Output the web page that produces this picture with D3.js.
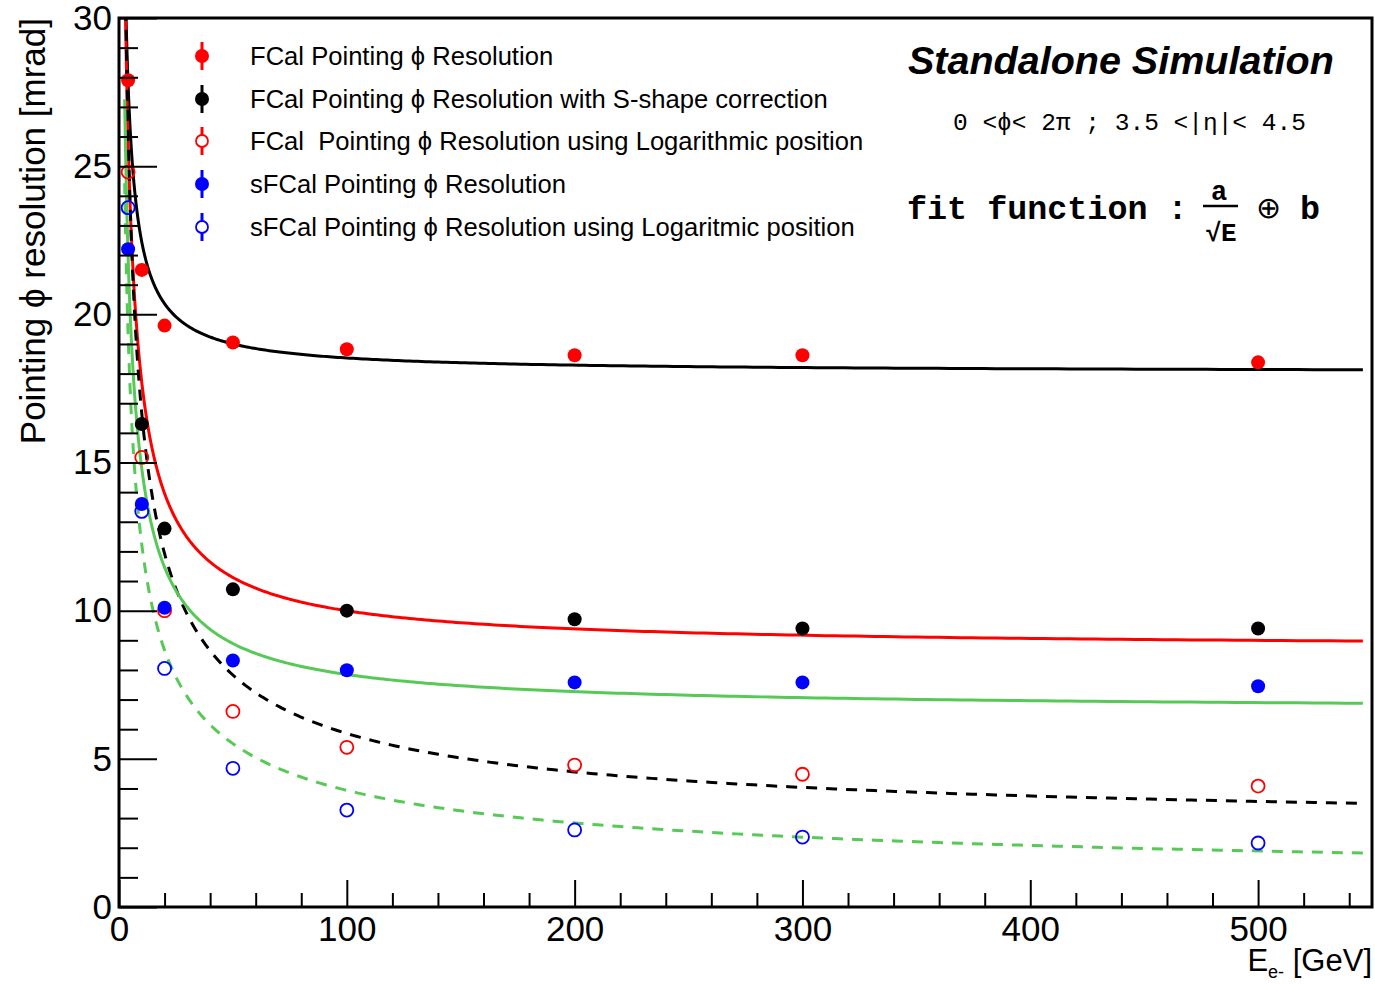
<!DOCTYPE html>
<html>
<head>
<meta charset="utf-8">
<script src="https://cdn.jsdelivr.net/npm/d3@7"></script>
<style>
  body { margin: 0; background: #fff; }
  svg { display: block; }
  text { font-family: "Liberation Sans", Arial, Helvetica, sans-serif; fill: #000; }
  .mono { font-family: "Liberation Mono", "Courier New", monospace; }
</style>
</head>
<body>
<svg id="chart" width="1375" height="984"></svg>
<script>
// Beam energies [GeV] and the measured phi resolutions [mrad]
const energies     = [4, 10, 20, 50, 100, 200, 300, 500];
const fcalRes      = [27.9, 21.5, 19.62, 19.05, 18.82, 18.62, 18.62, 18.38];
const fcalSShape   = [null, 16.3, 12.77, 10.72, 10.0, 9.71, 9.4, 9.4];
const fcalLogRes   = [24.8, 15.17, 10.0, 6.6, 5.39, 4.79, 4.48, 4.08];
const sfcalRes     = [22.2, 13.6, 10.1, 8.32, 7.99, 7.58, 7.58, 7.45];
const sfcalLogRes  = [23.6, 13.35, 8.05, 4.68, 3.27, 2.6, 2.36, 2.16];

// Fit results for sigma(E) = a/sqrt(E) (+) b, one per series above
const fitA = [42.2, 48.7, 51.96, 41.8, 38.6];
const fitB = [18.04, 8.73, 2.70, 6.64, 0.77];
const fitRange = [2.5, 546];

// Axis ticks
const xMajorTicks = [0, 100, 200, 300, 400, 500];
const xMinorTicks = d3.range(0, 551, 20);
const yMajorTicks = [0, 5, 10, 15, 20, 25, 30];
const yMinorTicks = d3.range(0, 31, 1);

const legendLabels = [
  "FCal Pointing \u03d5 Resolution",
  "FCal Pointing \u03d5 Resolution with S-shape correction",
  "FCal  Pointing \u03d5 Resolution using Logarithmic position",
  "sFCal Pointing \u03d5 Resolution",
  "sFCal Pointing \u03d5 Resolution using Logaritmic position"
];

const GREEN = "#57c957";
const series = [
  { values: fcalRes,     color: "#ff0000", filled: true },
  { values: fcalSShape,  color: "#000000", filled: true },
  { values: fcalLogRes,  color: "#ff0000", filled: false },
  { values: sfcalRes,    color: "#0000ff", filled: true },
  { values: sfcalLogRes, color: "#0000ff", filled: false }
];
const fitStyles = [
  { color: "#000000", dash: null },
  { color: "#ff0000", dash: null },
  { color: "#000000", dash: "11,9" },
  { color: GREEN,     dash: null },
  { color: GREEN,     dash: "11,9" }
];

const svg = d3.select("#chart");
const plot = { left: 119, right: 1372, top: 18, bottom: 907 };

const x = d3.scaleLinear().domain([0, 550]).range([plot.left, plot.right]);
const y = d3.scaleLinear().domain([0, 30]).range([plot.bottom, plot.top]);

svg.append("defs").append("clipPath").attr("id", "plotClip")
  .append("rect")
  .attr("x", plot.left).attr("y", plot.top)
  .attr("width", plot.right - plot.left).attr("height", plot.bottom - plot.top);

// Fit curves
const eGrid = d3.range(0, 401).map(i => fitRange[0] * Math.pow(fitRange[1] / fitRange[0], i / 400));
const line = d3.line().x(d => x(d[0])).y(d => y(d[1]));
const curves = svg.append("g").attr("clip-path", "url(#plotClip)");
fitA.forEach((a, i) => {
  const b = fitB[i];
  const pts = eGrid.map(e => [e, Math.sqrt(a * a / e + b * b)]);
  curves.append("path")
    .attr("d", line(pts))
    .attr("fill", "none")
    .attr("stroke", fitStyles[i].color)
    .attr("stroke-width", 3)
    .attr("stroke-dasharray", fitStyles[i].dash);
});

// Data markers
const markers = svg.append("g").attr("clip-path", "url(#plotClip)");
series.forEach(s => {
  const pts = energies.map((e, i) => [e, s.values[i]]).filter(d => d[1] != null);
  markers.selectAll(null).data(pts).enter().append("circle")
    .attr("cx", d => x(d[0])).attr("cy", d => y(d[1]))
    .attr("r", s.filled ? 7 : 6.5)
    .attr("fill", s.filled ? s.color : "none")
    .attr("stroke", s.color)
    .attr("stroke-width", s.filled ? 0 : 1.8);
});

// Axes (ticks drawn inside the frame)
svg.append("g").attr("transform", `translate(0,${plot.bottom})`)
  .call(d3.axisBottom(x).tickValues(xMajorTicks).tickSize(-27).tickSizeOuter(0)
    .tickPadding(9).tickFormat(d3.format("d")));
svg.append("g").attr("transform", `translate(0,${plot.bottom})`)
  .call(d3.axisBottom(x).tickValues(xMinorTicks.filter(v => !xMajorTicks.includes(v)))
    .tickSize(-14).tickSizeOuter(0).tickFormat(""));
svg.append("g").attr("transform", `translate(${plot.left},0)`)
  .call(d3.axisLeft(y).tickValues(yMajorTicks).tickSize(-38).tickSizeOuter(0)
    .tickPadding(7).tickFormat(d3.format("d")));
svg.append("g").attr("transform", `translate(${plot.left},0)`)
  .call(d3.axisLeft(y).tickValues(yMinorTicks.filter(v => !yMajorTicks.includes(v)))
    .tickSize(-19).tickSizeOuter(0).tickFormat(""));

svg.selectAll(".domain").attr("stroke", "none");
svg.selectAll(".tick line").attr("stroke", "#000").attr("stroke-width", 2);
svg.selectAll(".tick text")
  .attr("font-family", "Liberation Sans, Arial, sans-serif")
  .attr("font-size", 35).attr("fill", "#000");

// Frame
svg.append("rect")
  .attr("x", plot.left).attr("y", plot.top)
  .attr("width", plot.right - plot.left).attr("height", plot.bottom - plot.top)
  .attr("fill", "none").attr("stroke", "#000").attr("stroke-width", 3);

// Axis titles
svg.append("text")
  .attr("transform", `translate(45,${plot.top}) rotate(-90)`)
  .attr("text-anchor", "end")
  .attr("font-size", 35)
  .text("Pointing \u03d5 resolution [mrad]");

const xt = svg.append("text")
  .attr("x", plot.right).attr("y", 971)
  .attr("text-anchor", "end")
  .attr("font-size", 31);
xt.append("tspan").text("E");
xt.append("tspan").attr("font-size", 18).attr("dy", 7).text("e-");
xt.append("tspan").attr("dy", -7).text(" [GeV]");

// Legend
const legend = svg.append("g");
const legendY = [56, 99, 141, 184, 227];
series.forEach((s, i) => {
  const g = legend.append("g").attr("transform", `translate(202,${legendY[i]})`);
  g.append("line").attr("y1", -14).attr("y2", 14)
    .attr("stroke", s.color).attr("stroke-width", 3);
  g.append("circle").attr("r", s.filled ? 7 : 6)
    .attr("fill", s.filled ? s.color : "#fff")
    .attr("stroke", s.color).attr("stroke-width", s.filled ? 0 : 1.8);
  g.append("text").attr("x", 48).attr("dy", "0.35em")
    .attr("font-size", 25.6).style("white-space", "pre")
    .text(legendLabels[i]);
});

// Annotations
svg.append("text")
  .attr("x", 908).attr("y", 74)
  .attr("font-size", 39.5).attr("font-weight", "bold").attr("font-style", "italic")
  .text("Standalone Simulation");

svg.append("text").attr("class", "mono")
  .attr("x", 953).attr("y", 130)
  .attr("font-size", 24.5).style("white-space", "pre")
  .text("0 <\u03d5< 2\u03c0 ; 3.5 <|\u03b7|< 4.5");

svg.append("text").attr("class", "mono")
  .attr("x", 907).attr("y", 219)
  .attr("font-size", 33.4).attr("font-weight", "bold").style("white-space", "pre")
  .text("fit function :");

svg.append("text").attr("class", "mono")
  .attr("x", 1219).attr("y", 200).attr("text-anchor", "middle")
  .attr("font-size", 27).attr("font-weight", "bold").text("a");
svg.append("line")
  .attr("x1", 1203).attr("x2", 1238).attr("y1", 206).attr("y2", 206)
  .attr("stroke", "#000").attr("stroke-width", 2.5);
svg.append("text").attr("class", "mono")
  .attr("x", 1221).attr("y", 241).attr("text-anchor", "middle")
  .attr("font-size", 26).attr("font-weight", "bold")
  .text("\u221aE");
svg.append("text")
  .attr("x", 1268).attr("y", 218).attr("text-anchor", "middle")
  .attr("font-size", 30).text("\u2295");
svg.append("text").attr("class", "mono")
  .attr("x", 1310).attr("y", 219).attr("text-anchor", "middle")
  .attr("font-size", 33.4).attr("font-weight", "bold").text("b");
</script>
</body>
</html>
